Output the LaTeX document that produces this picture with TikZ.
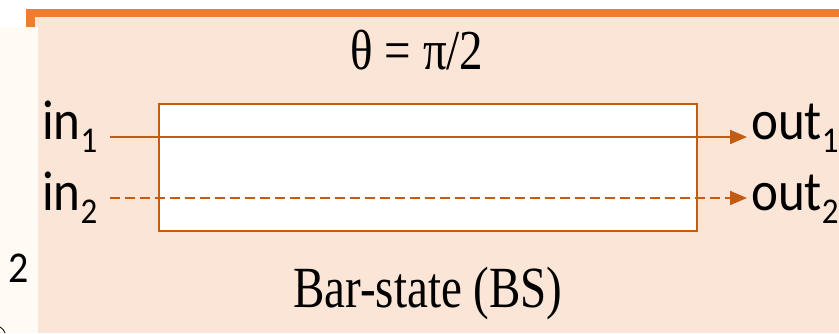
\documentclass[tikz,border=0pt]{standalone}
\usepackage{fontspec}
\usepackage{graphicx}
\usetikzlibrary{arrows.meta}
\newfontfamily\calfont{Carlito}
\newfontfamily\timesfont{Liberation Serif}
\definecolor{barorange}{HTML}{ED7D31}
\definecolor{peach}{HTML}{FBE5D6}
\definecolor{rust}{HTML}{C55A11}
\definecolor{cream}{HTML}{FFFAF4}
\newcommand\vstr[2]{\scalebox{1}[#1]{#2}}
\newcommand\sbs[1]{\raisebox{-12pt}{\fontsize{33}{33}\selectfont #1}}
\tikzset{
  port/.style={anchor=base west, inner sep=0pt, font=\calfont\fontsize{51}{51}\selectfont},
  serif/.style={inner sep=0pt, font=\timesfont\fontsize{47}{47}\selectfont},
  sig/.style={draw=rust, line width=2pt, -{Triangle[length=17pt,width=14pt]}},
  sigdash/.style={sig, dash pattern=on 9.5pt off 5.5pt},
}
\begin{document}
\begin{tikzpicture}[x=1pt,y=-1pt]
\useasboundingbox (0,0) rectangle (839,333);
\fill[white] (0,0) rectangle (839,333);
\fill[barorange] (26,9) rectangle (839,333);
\fill[peach] (35,16.5) rectangle (839,333);
\fill[cream] (0,27) rectangle (38,333);
\node[anchor=base west, inner sep=0pt, font=\calfont\fontsize{40}{40}\selectfont] (c2) at (8,282) {\vstr{1.1}{2}};
\draw[line width=0.8pt] (0,327) .. controls (3,329) .. (5,333);
\node[draw=rust, line width=2pt, fill=white, minimum width=538pt, minimum height=127pt, inner sep=0pt, anchor=north west] (bs) at (158,103) {};
\node[serif] (theta) at (417,50) {\vstr{1.2}{θ = π/2}};
\node[serif, anchor=base] (label) at (428,307) {\vstr{1.24}{Bar-state (BS)}};
\node[port] (in1) at (42,139) {\vstr{1.1}{in\sbs{1}}};
\node[port] (in2) at (42,210) {\vstr{1.1}{in\sbs{2}}};
\node[port] (out1) at (751,139) {\vstr{1.1}{out\sbs{1}}};
\node[port] (out2) at (751,210) {\vstr{1.1}{out\sbs{2}}};
\coordinate (i1) at (110,137);
\coordinate (o1) at (747,137);
\coordinate (i2) at (110,198);
\coordinate (o2) at (747,198);
\draw[sig] (i1) -- (o1);
\draw[sigdash] (i2) -- (o2);
\end{tikzpicture}
\end{document}
